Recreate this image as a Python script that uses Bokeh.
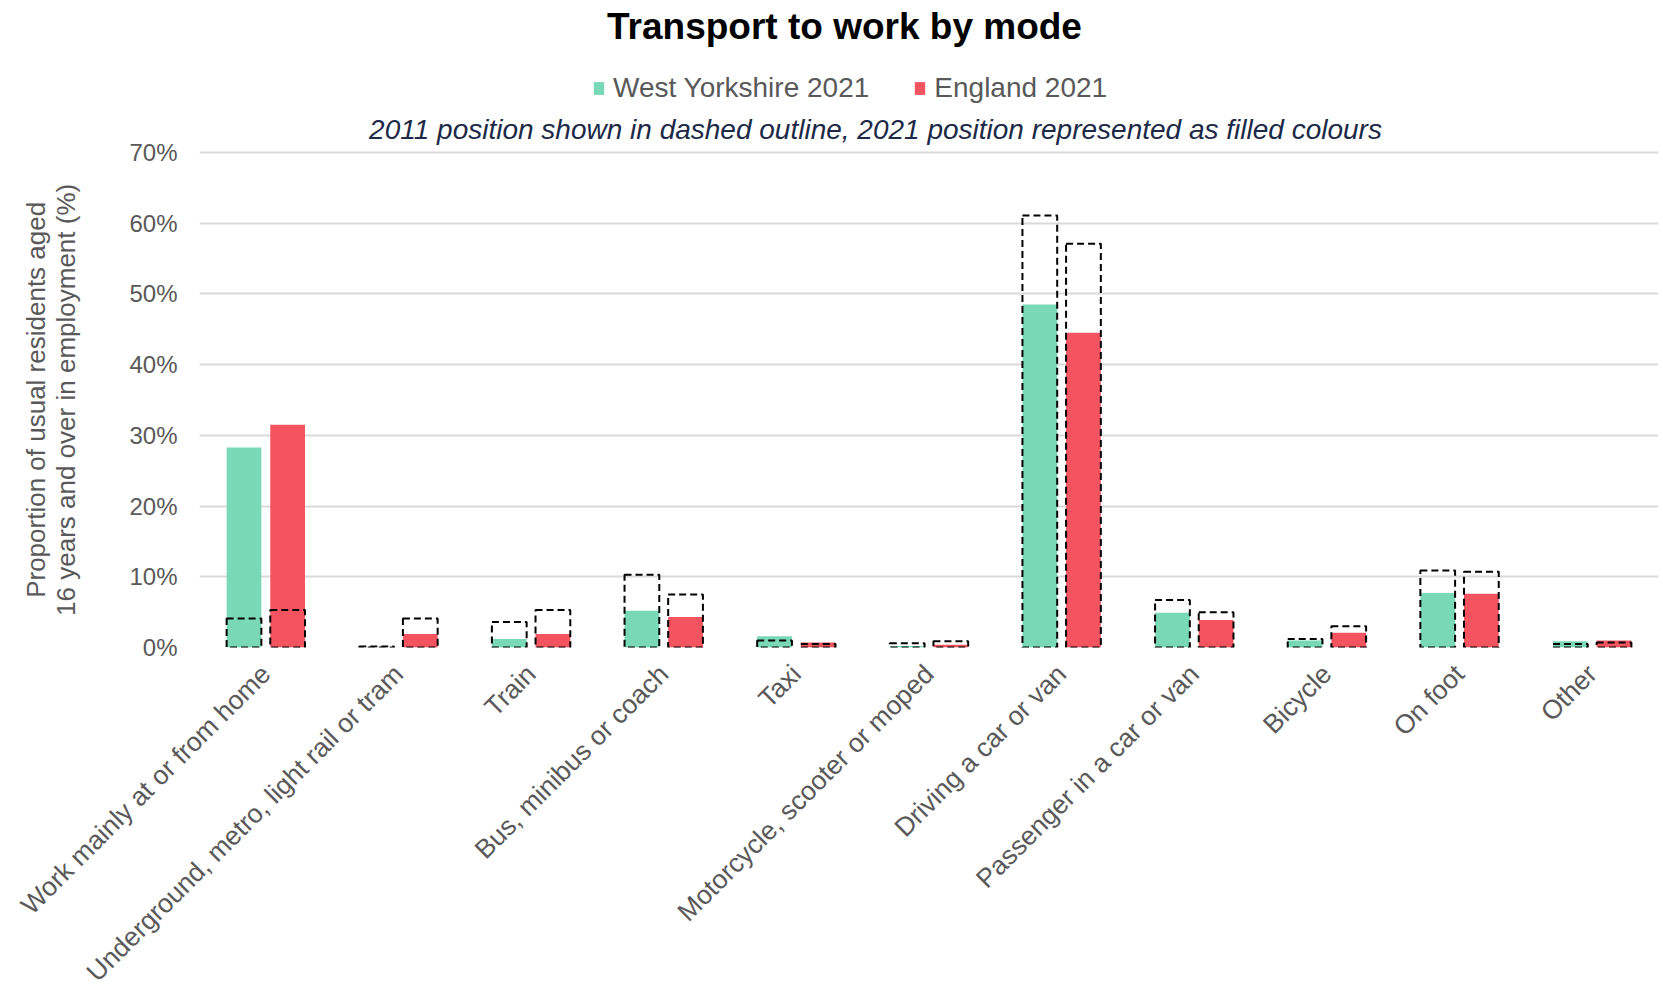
import math
from bokeh.plotting import figure
from bokeh.models import (FactorRange, ColumnDataSource, Legend, LegendItem, Label,
                          FixedTicker, PrintfTickFormatter, Range1d)
from bokeh.transform import dodge
from bokeh.embed import file_html
from bokeh.resources import INLINE

categories = ["Work mainly at or from home", "Underground, metro, light rail or tram", "Train",
              "Bus, minibus or coach", "Taxi", "Motorcycle, scooter or moped", "Driving a car or van",
              "Passenger in a car or van", "Bicycle", "On foot", "Other"]
wy_2021 = [28.3, 0.05, 1.2, 5.2, 1.6, 0.2, 48.5, 4.9, 1.0, 7.7, 0.9]
eng_2021 = [31.5, 1.9, 1.9, 4.3, 0.7, 0.4, 44.5, 3.9, 2.1, 7.6, 1.0]
wy_2011 = [4.1, 0.15, 3.6, 10.3, 1.0, 0.6, 61.1, 6.7, 1.2, 10.9, 0.5]
eng_2011 = [5.3, 4.1, 5.3, 7.5, 0.5, 0.9, 57.1, 5.0, 3.0, 10.7, 0.7]
y_ticks = [0, 10, 20, 30, 40, 50, 60, 70]
y_label_lines = ["Proportion of usual residents aged", "16 years and over in employment (%)"]

FONT = "Liberation Sans"
GREEN = "#79D9B7"
RED = "#F4545F"
GREY = "#595959"

FRAME_LEFT = 199       # left edge of the plotting area on the page
FRAME_W = 1459
FRAME_BOTTOM = 647     # y of the 0% line on the page
FRAME_TOP70 = 152      # y of the 70% line on the page
Y_MAX = 70 * FRAME_BOTTOM / (FRAME_BOTTOM - FRAME_TOP70)

src = ColumnDataSource(dict(cat=categories, wy21=wy_2021, en21=eng_2021, wy11=wy_2011, en11=eng_2011))

p = figure(frame_width=FRAME_W, frame_height=FRAME_BOTTOM,
           x_range=FactorRange(*categories, range_padding=0),
           y_range=Range1d(0, Y_MAX), output_backend="svg", toolbar_location=None,
           min_border_left=FRAME_LEFT, min_border_right=5, min_border_top=0,
           min_border_bottom=989 - FRAME_BOTTOM)
p.x_range.factor_padding = 0
p.outline_line_color = None
p.background_fill_color = "white"
p.border_fill_color = "white"

OFF = 0.1645
W = 0.262
r1 = p.vbar(x=dodge("cat", -OFF, range=p.x_range), top="wy21", width=W, source=src,
            fill_color=GREEN, line_color=None)
r2 = p.vbar(x=dodge("cat", OFF, range=p.x_range), top="en21", width=W, source=src,
            fill_color=RED, line_color=None)
p.vbar(x=dodge("cat", -OFF, range=p.x_range), top="wy11", width=W, source=src,
       fill_alpha=0, line_color="black", line_dash="7 4", line_width=2)
p.vbar(x=dodge("cat", OFF, range=p.x_range), top="en11", width=W, source=src,
       fill_alpha=0, line_color="black", line_dash="7 4", line_width=2)

p.xgrid.grid_line_color = None
p.ygrid.grid_line_color = "#D9D9D9"
p.ygrid.grid_line_width = 2
p.yaxis.ticker = FixedTicker(ticks=y_ticks)
p.yaxis.formatter = PrintfTickFormatter(format="%d%%")
p.yaxis.axis_line_color = None
p.yaxis.major_tick_line_color = None
p.yaxis.minor_tick_line_color = None
p.yaxis.major_label_standoff = 16
p.yaxis.major_label_text_font = FONT
p.yaxis.major_label_text_font_size = "24px"
p.yaxis.major_label_text_color = GREY

# the axis title is centred on the (tall) frame; trailing no-break spaces move the
# visible words down so they sit centred on the 0-70% span, as in the original
pad = "\u00a0" * 21
p.yaxis.axis_label = "\n".join(line + pad for line in y_label_lines)
p.yaxis.axis_label_text_font = FONT
p.yaxis.axis_label_text_font_size = "26px"
p.yaxis.axis_label_text_font_style = "normal"
p.yaxis.axis_label_text_color = GREY
p.yaxis.axis_label_text_line_height = 1.0
p.yaxis.axis_label_standoff = 45

p.xaxis.axis_line_color = None
p.xaxis.major_tick_line_color = None
p.xaxis.minor_tick_line_color = None
p.xaxis.major_label_orientation = math.pi / 4
p.xaxis.major_label_standoff = 16
p.xaxis.major_label_text_font = FONT
p.xaxis.major_label_text_font_size = "26.5px"
p.xaxis.major_label_text_color = GREY

legend = Legend(items=[LegendItem(label="West Yorkshire 2021", renderers=[r1]),
                       LegendItem(label="England 2021", renderers=[r2])],
                orientation="horizontal", location=(592 - FRAME_LEFT, FRAME_BOTTOM - 104),
                glyph_width=13, glyph_height=16, label_standoff=8, spacing=44,
                label_text_font=FONT, label_text_font_size="28px", label_text_color=GREY,
                padding=0, margin=0, border_line_color=None, background_fill_alpha=0)
p.add_layout(legend, "center")

title = Label(x=844 - FRAME_LEFT, y=FRAME_BOTTOM - 26, x_units="screen", y_units="screen",
              text="Transport to work by mode", text_align="center", text_baseline="middle",
              text_font=FONT, text_font_size="37px", text_font_style="bold", text_color="black")
sub = Label(x=875 - FRAME_LEFT, y=FRAME_BOTTOM - 129, x_units="screen", y_units="screen",
            text="2011 position shown in dashed outline, 2021 position represented as filled colours",
            text_align="center", text_baseline="middle",
            text_font=FONT, text_font_size="28px", text_font_style="italic", text_color="#1C2A48")
p.add_layout(title)
p.add_layout(sub)

open("out.html", "w").write(file_html(p, INLINE))
